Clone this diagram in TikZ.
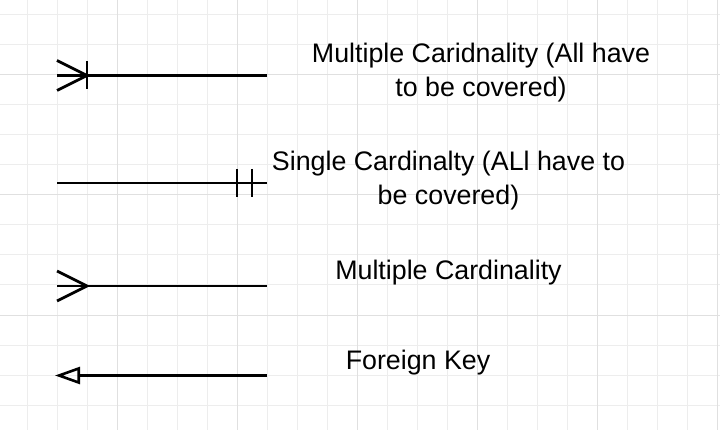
\documentclass[tikz,border=0pt]{standalone}
\usepackage{fontspec}
\setmainfont{Liberation Sans}
\usetikzlibrary{arrows.meta}

\definecolor{gridlight}{HTML}{EDEDED}
\definecolor{griddark}{HTML}{E0E0E0}

\begin{document}
\begin{tikzpicture}[
    x=1pt, y=-1pt,
    minorgrid/.style={draw=gridlight, line width=1pt},
    majorgrid/.style={draw=griddark, line width=1pt},
    rel/.style={draw=black, line width=2.8pt},
    fk/.style={rel, -{Triangle[open, length=25pt, width=17pt, line width=2.6pt]}},
    lbl/.style={align=center, inner sep=0pt, font=\fontsize{26.8}{34}\selectfont}
]
    \useasboundingbox[fill=white] (0,0) rectangle (720,430);

    % background grid
    \foreach \gx in {27,57,...,717} {
        \draw[minorgrid] (\gx,0) -- (\gx,430);
    }
    \foreach \gy in {15,45,...,405} {
        \draw[minorgrid] (0,\gy) -- (720,\gy);
    }
    \foreach \gx in {117,237,...,717} {
        \draw[majorgrid] (\gx,0) -- (\gx,430);
    }
    \foreach \gy in {75,195,315} {
        \draw[majorgrid] (0,\gy) -- (720,\gy);
    }

    % multiple cardinality, all covered
    \coordinate (manyalll) at (57,75.5);
    \coordinate (manyallr) at (267,75.5);
    \draw[rel] (manyalll) -- (manyallr);
    \draw[rel] ([yshift=15pt]manyalll) -- ([xshift=30pt]manyalll) -- ([yshift=-15pt]manyalll);
    \draw[rel] ([xshift=30pt,yshift=14pt]manyalll) -- ([xshift=30pt,yshift=-14pt]manyalll);
    \node[lbl] (manyalltext) at (481,72.5) {Multiple Caridnality (All have\\to be covered)};

    % single cardinality, all covered
    \coordinate (onealll) at (57,183);
    \coordinate (oneallr) at (267,183);
    \draw[rel] (onealll) -- (oneallr);
    \draw[rel] ([xshift=-30pt,yshift=14pt]oneallr) -- ([xshift=-30pt,yshift=-14pt]oneallr);
    \draw[rel] ([xshift=-15pt,yshift=14pt]oneallr) -- ([xshift=-15pt,yshift=-14pt]oneallr);
    \node[lbl] (onealltext) at (448.5,180.5) {Single Cardinalty (ALl have to\\be covered)};

    % multiple cardinality
    \coordinate (manyl) at (57,286);
    \coordinate (manyr) at (267,286);
    \draw[rel] (manyl) -- (manyr);
    \draw[rel] ([yshift=15pt]manyl) -- ([xshift=30pt]manyl) -- ([yshift=-15pt]manyl);
    \node[lbl] (manytext) at (448.5,272.5) {Multiple Cardinality};

    % foreign key
    \coordinate (fkl) at (55,375.5);
    \coordinate (fkr) at (267,375.5);
    \draw[fk] (fkr) -- (fkl);
    \node[lbl] (fktext) at (418,362.5) {Foreign Key};
\end{tikzpicture}
\end{document}
